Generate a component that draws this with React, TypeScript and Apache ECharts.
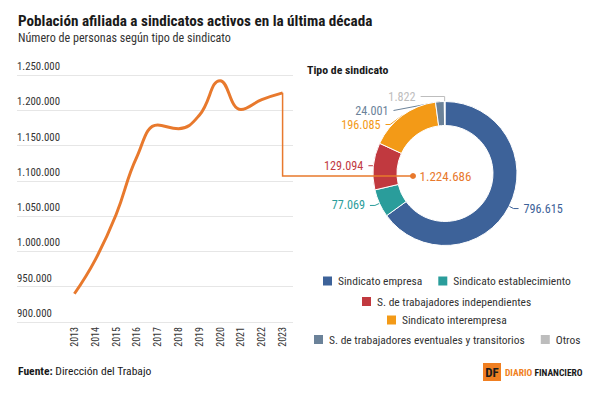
import React, { useEffect, useRef } from 'react';
import * as echarts from 'echarts';

const FONT = '"Liberation Sans Narrow", "Roboto Condensed", "DejaVu Sans Condensed", Roboto, sans-serif';

const years = ['2013', '2014', '2015', '2016', '2017', '2018', '2019', '2020', '2021', '2022', '2023'];
const afiliados = [940000, 988000, 1052000, 1134000, 1179000, 1174000, 1193000, 1242000, 1201000, 1215000, 1224686];

const yMin = 900000;
const yMax = 1250000;
const yStep = 50000;

const tipos = [
  'Sindicato empresa',
  'Sindicato establecimiento',
  'S. de trabajadores independientes',
  'Sindicato interempresa',
  'S. de trabajadores eventuales y transitorios',
  'Otros',
];
const tipoValores = [796615, 77069, 129094, 196085, 24001, 1822];
const tipoColores = ['#3D6299', '#2A9D9B', '#C1393F', '#F39A17', '#6B8299', '#BDBDBD'];
const legendRows = [[0, 1], [2], [3], [4, 5]];

const ORANGE = '#E8792D';

function fmt(n: number): string {
  return String(Math.round(n)).replace(/\B(?=(\d{3})+(?!\d))/g, '.');
}

export default function App() {
  const ref = useRef<HTMLDivElement>(null);

  useEffect(() => {
    if (!ref.current) return;
    const chart = echarts.init(ref.current, undefined, { renderer: 'svg' });

    const cx = 445;
    const cy = 173.5;
    const total = tipoValores.reduce((a, b) => a + b, 0);

    const canvas = document.createElement('canvas');
    const ctx = canvas.getContext('2d')!;
    const legendFontSize = 11.5;
    ctx.font = `${legendFontSize}px ${FONT}`;
    const itemW = 11;
    const itemGap = 14;
    const rowTops = [274.5, 295, 313.5, 333];
    const legends = legendRows.map((row, i) => {
      const w = row.reduce((s, idx) => s + itemW + 5 + ctx.measureText(tipos[idx]).width, 0) + itemGap * (row.length - 1);
      return {
        data: row.map((idx) => tipos[idx]),
        left: Math.round(cx - w / 2),
        top: rowTops[i],
        orient: 'horizontal',
        icon: 'rect',
        itemWidth: itemW,
        itemHeight: itemW,
        itemGap,
        padding: 0,
        selectedMode: false,
        textStyle: { fontFamily: FONT, fontSize: legendFontSize, color: '#333' },
      };
    });

    // second label-line segment per slice (the tiny top slices get longer ones)
    const labelLen2 = [5, 5, 5, 5, 12, 24];

    const option: any = {
      animation: false,
      backgroundColor: '#fff',
      textStyle: { fontFamily: FONT },
      title: {
        text: 'Población afiliada a sindicatos activos en la última década',
        subtext: 'Número de personas según tipo de sindicato',
        left: 18,
        top: 13,
        padding: 0,
        itemGap: 4,
        textStyle: { fontFamily: FONT, fontSize: 15.2, fontWeight: 'bold', color: '#1a1a1a' },
        subtextStyle: { fontFamily: FONT, fontSize: 12.1, color: '#333' },
      },
      legend: legends,
      grid: [
        { left: 17, top: 75, width: 276, height: 247 },
        { left: 64, top: 75, width: 229, height: 247 },
      ],
      xAxis: [
        { gridIndex: 0, type: 'value', show: false },
        {
          gridIndex: 1,
          type: 'category',
          data: years,
          boundaryGap: true,
          axisLine: { show: false },
          axisTick: { show: false },
          axisLabel: { rotate: 90, margin: 5, fontSize: 10, color: '#333', fontFamily: FONT },
        },
      ],
      yAxis: [
        {
          gridIndex: 0,
          type: 'value',
          min: yMin,
          max: yMax,
          interval: yStep,
          axisLine: { show: false },
          axisTick: { show: false },
          splitLine: { lineStyle: { color: '#e6e6e6', width: 1 } },
          axisLabel: {
            inside: true,
            margin: 0,
            verticalAlign: 'bottom',
            padding: [0, 0, 3, 0],
            fontSize: 10.8,
            color: '#333',
            fontFamily: FONT,
            formatter: (v: number) => fmt(v),
          },
        },
        { gridIndex: 1, type: 'value', min: yMin, max: yMax, interval: yStep, show: false },
      ],
      series: [
        {
          type: 'line',
          xAxisIndex: 1,
          yAxisIndex: 1,
          data: afiliados,
          smooth: 0.45,
          symbol: 'none',
          lineStyle: { color: ORANGE, width: 3 },
          z: 3,
        },
        {
          type: 'pie',
          center: [cx, cy],
          radius: [48, 72],
          startAngle: 90,
          clockwise: true,
          avoidLabelOverlap: true,
          itemStyle: { borderColor: '#fff', borderWidth: 1 },
          label: {
            show: true,
            position: 'outside',
            fontSize: 12.2,
            fontFamily: FONT,
            formatter: (p: any) => fmt(p.value),
          },
          labelLine: { show: true, length: 5, length2: 5, lineStyle: { width: 1 } },
          emphasis: { disabled: true },
          data: tipos.map((name, i) => ({
            name,
            value: tipoValores[i],
            itemStyle: { color: tipoColores[i] },
            label: { color: tipoColores[i] },
            labelLine: { length: 5, length2: labelLen2[i] },
          })),
        },
      ],
    };

    chart.setOption(option);

    const lastIdx = afiliados.length - 1;
    const p = chart.convertToPixel({ xAxisIndex: 1, yAxisIndex: 1 }, [years[lastIdx], afiliados[lastIdx]]) as number[];
    const lineY = cy + 2.5;
    const dotX = cx - 32;

    chart.setOption({
      graphic: [
        {
          type: 'polyline',
          shape: { points: [[p[0], p[1]], [p[0], lineY], [dotX, lineY]] },
          style: { stroke: ORANGE, lineWidth: 1.5, fill: null },
          z: 10,
        },
        { type: 'circle', shape: { cx: dotX, cy: lineY, r: 3 }, style: { fill: ORANGE }, z: 10 },
        {
          type: 'text',
          x: cx + 0.5,
          y: lineY,
          style: { text: fmt(total), fill: ORANGE, font: `13px ${FONT}`, align: 'center', verticalAlign: 'middle' },
          z: 10,
        },
        {
          type: 'text',
          x: 307,
          y: 70,
          style: { text: 'Tipo de sindicato', fill: '#1a1a1a', font: `bold 11.8px ${FONT}`, verticalAlign: 'middle' },
        },
        {
          type: 'text',
          x: 18,
          y: 371,
          style: {
            text: '{b|Fuente:} Dirección del Trabajo',
            fill: '#1a1a1a',
            font: `11.6px ${FONT}`,
            verticalAlign: 'middle',
            rich: { b: { fontWeight: 'bold', fontSize: 11.6, fontFamily: FONT, fill: '#1a1a1a' } },
          },
        },
        { type: 'rect', shape: { x: 483, y: 363, width: 18, height: 18 }, style: { fill: '#F07F21' } },
        {
          type: 'text',
          x: 492,
          y: 372.5,
          style: { text: 'DF', fill: '#1a1a1a', font: `bold 13px ${FONT}`, align: 'center', verticalAlign: 'middle' },
        },
        {
          type: 'text',
          x: 505,
          y: 372,
          style: {
            text: '{o|DIARIO} {d|FINANCIERO}',
            verticalAlign: 'middle',
            font: `bold 9.5px ${FONT}`,
            rich: {
              o: { fill: '#F07F21', fontWeight: 'bold', fontSize: 9.5, fontFamily: FONT },
              d: { fill: '#1a1a1a', fontWeight: 'bold', fontSize: 9.5, fontFamily: FONT },
            },
          },
        },
      ],
    });

    return () => chart.dispose();
  }, []);

  return <div ref={ref} style={{ position: 'absolute', left: 0, top: 0, width: 600, height: 394, background: '#fff' }} />;
}
